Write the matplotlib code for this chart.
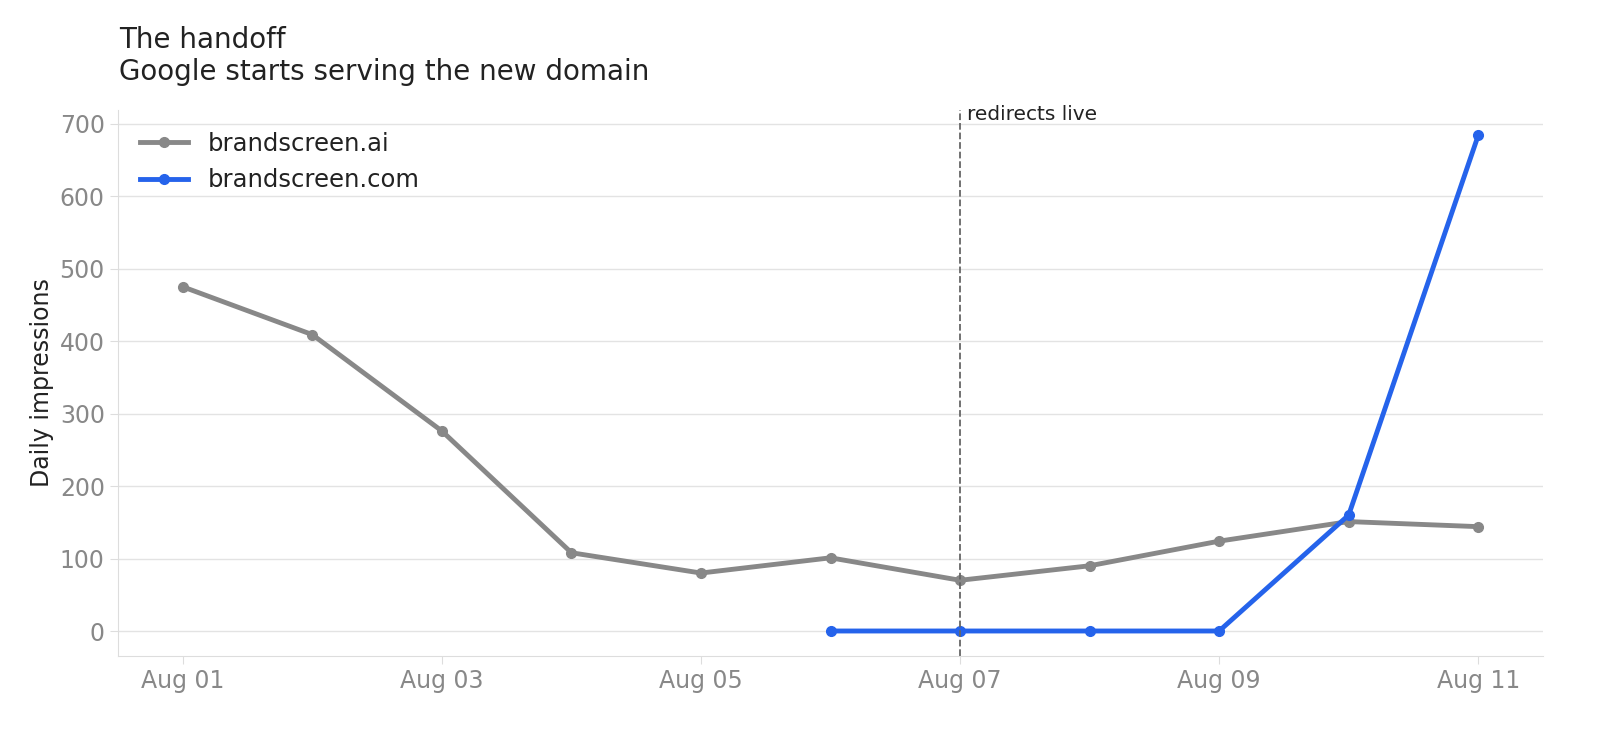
import matplotlib
matplotlib.use("Agg")
import matplotlib.pyplot as plt
import matplotlib.dates as mdates
import pandas as pd

dates = pd.date_range("2024-08-01", "2024-08-11")
ai_values = [475, 409, 276, 108, 80, 101, 70, 90, 124, 151, 144]
com_dates = pd.date_range("2024-08-06", "2024-08-11")
com_values = [0, 0, 0, 0, 160, 684]
event_date = pd.Timestamp("2024-08-07")

fig = plt.figure(figsize=(16, 7.36), dpi=100)
ax = fig.add_axes([118/1600, 1-656/736, (1543-118)/1600, (656-110)/736])
ax.plot(dates, ai_values, color="#888888", lw=3.5, marker="o", ms=7, label="brandscreen.ai")
ax.plot(com_dates, com_values, color="#2563eb", lw=3.5, marker="o", ms=7, label="brandscreen.com")
ax.axvline(event_date, color="#666666", ls="--", lw=1.3)
ax.text(event_date + pd.Timedelta(hours=1.2), 700, "redirects live", fontsize=14.5, color="#222222", va="bottom")

ax.set_xlim(pd.Timestamp("2024-07-31 12:00"), pd.Timestamp("2024-08-11 12:00"))
ax.set_ylim(-34.5, 719)
ax.set_yticks(range(0, 701, 100))
ax.xaxis.set_major_locator(mdates.DayLocator(interval=2))
ax.xaxis.set_major_formatter(mdates.DateFormatter("%b %d"))
ax.grid(axis="y", color="#e3e3e3", lw=1)
ax.set_axisbelow(True)
for s in ["top", "right"]:
    ax.spines[s].set_visible(False)
for s in ["left", "bottom"]:
    ax.spines[s].set_color("#dddddd")
ax.tick_params(colors="#dddddd", labelcolor="#888888", labelsize=17, length=6)
ax.set_ylabel("Daily impressions", fontsize=17, color="#222222")
ax.legend(loc="upper left", frameon=False, fontsize=17.5, labelcolor="#222222")
fig.text(119/1600, 1-56/736, "The handoff\nGoogle starts serving the new domain", fontsize=20, color="#222222", va="center", linespacing=1.15)
fig.savefig("out.png")
